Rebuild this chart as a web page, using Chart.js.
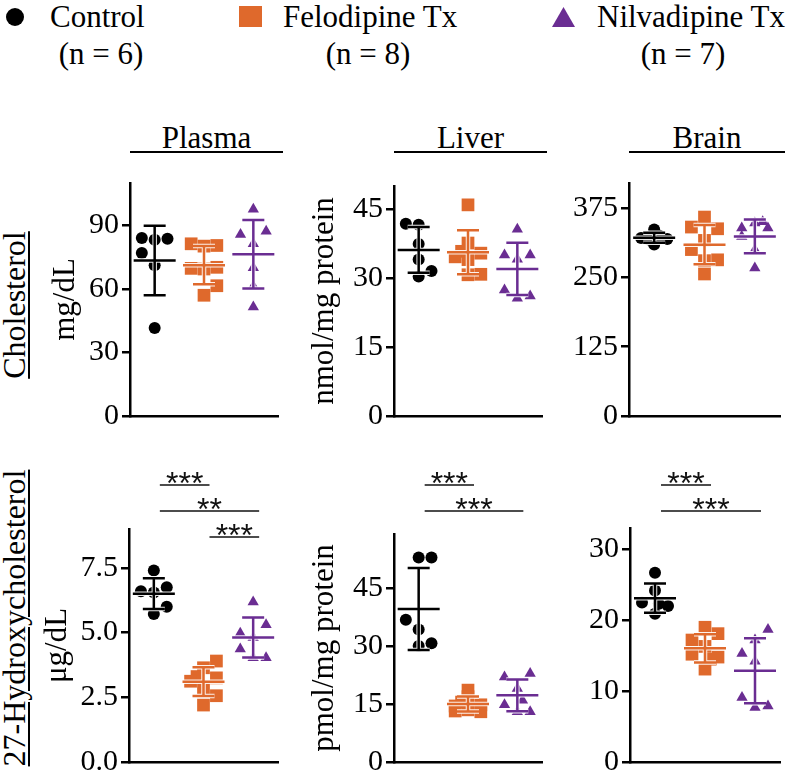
<!DOCTYPE html>
<html>
<head>
<meta charset="utf-8">
<script src="https://cdn.jsdelivr.net/npm/chart.js@4.4.1/dist/chart.umd.min.js"></script>
<style>
  html, body { margin: 0; padding: 0; background: #fff; overflow: hidden; }
  #page { position: relative; width: 789px; height: 776px; font-family: 'Liberation Serif', 'Times New Roman', serif; color: #000; }
  .txt { position: absolute; white-space: nowrap; font-size: 31px; line-height: 31px; }
  .mid { transform: translateX(-50%); }
  .col { position: absolute; text-align: center; font-size: 31px; line-height: 31px; height: 29px; border-bottom: 2px solid #000; }
  .row { position: absolute; text-align: center; font-size: 32px; line-height: 32px; height: 32px; white-space: nowrap;
         transform: rotate(-90deg); text-decoration: underline; text-decoration-thickness: 1.5px; text-underline-offset: 3px; }
  canvas { position: absolute; }
</style>
</head>
<body>
<div id="page"></div>
<script>
const groups = ['Control', 'Felodipine Tx', 'Nilvadipine Tx'];
const groupN = ['(n = 6)', '(n = 8)', '(n = 7)'];
const groupColors = ['#000000', '#DF692C', '#6A2D92'];
const groupShapes = ['circle', 'rect', 'triangle'];

// Cholesterol - plasma (mg/dL)
const cholPlasmaCtrl = [84, 83.2, 83.7, 77, 71.2, 41.5];
const cholPlasmaFelo = [81.3, 80.2, 80.5, 69.7, 69.4, 70.2, 61.5, 57];
const cholPlasmaNilv = [97.6, 85.7, 87.2, 81.3, 70, 61.2, 51.5];
// Cholesterol - liver (nmol/mg protein)
const cholLiverCtrl = [41.8, 41.6, 37.4, 34, 31.5, 30.3];
const cholLiverFelo = [45.9, 37.6, 35.8, 34.6, 35.4, 34, 30.7, 30.8];
const cholLiverNilv = [40.6, 35, 34.1, 35, 27.4, 25.6, 26.1];
// Cholesterol - brain
const cholBrainCtrl = [336, 321, 319, 309, 325, 318];
const cholBrainFelo = [358.6, 340.6, 337.5, 316.5, 300, 281.5, 280, 256];
const cholBrainNilv = [348, 350, 339, 339, 323.7, 299.6, 267];
// 27-hydroxycholesterol - plasma (ug/dL)
const hcPlasmaCtrl = [7.4, 6.6, 6.75, 6.55, 6.0, 5.72];
const hcPlasmaFelo = [3.9, 3.64, 3.3, 3.12, 3.25, 2.86, 2.56, 2.2];
const hcPlasmaNilv = [6.18, 4.97, 5.3, 4.81, 4.36, 4.03, 4.03];
// 27-hydroxycholesterol - liver (pmol/mg protein)
const hcLiverCtrl = [52.9, 52.9, 36.8, 34.3, 30, 30.7];
const hcLiverFelo = [18.6, 16.9, 15.5, 14.8, 14.5, 13.5, 13.2, 13];
const hcLiverNilv = [22, 22.9, 19, 16, 14.8, 13, 13];
// 27-hydroxycholesterol - brain
const hcBrainCtrl = [26.7, 24.2, 22.5, 22.3, 22, 20.9];
const hcBrainFelo = [19, 18.1, 17.2, 16.3, 15.2, 14.8, 14.5, 13.1];
const hcBrainNilv = [18.7, 17.2, 15.3, 14.2, 9.1, 7.7, 7.9];

// which side of its column each dot sits on (-1 left, 0 centre, 1 right)
const cholPlasmaSides = [[-1,0,1,-1,0,0], [-1,0,1,-1,0,1,1,0], [0,-1,1,0,0,0,0]];
const cholLiverSides = [[-1,0,0,0,1,0], [0,0,-0.5,-1,1,0,0,1], [0,-1,0,1,-1,0,1]];
const cholBrainSides = [[0,-1,1,0,0.4,-0.4], [0,-1,1,0,-1,1,0,0], [0,0.6,1,-1,-1,0,0]];
const hcPlasmaSides = [[0,-1,1,0,1,0], [1,0,-0.5,-1,1,0,1,0], [0,-1,1,0,-1,0,1]];
const hcLiverSides = [[0,1,-1,0,0,1], [0,0,-0.5,1,-1,0,-1,1], [-1,1,0,0.4,-1,0,1]];
const hcBrainSides = [[0,0,-1,0.3,1,0], [0,1,-1,0,-1,1,0.4,0], [1,0,-1,0,-1,0,1]];

// tick labels
const cholPlasmaTicks = ['0', '30', '60', '90'];
const cholLiverTicks = ['0', '15', '30', '45'];
const cholBrainTicks = ['0', '125', '250', '375'];
const hcPlasmaTicks = ['0.0', '2.5', '5.0', '7.5'];
const hcLiverTicks = ['0', '15', '30', '45'];
const hcBrainTicks = ['0', '10', '20', '30'];

const tissues = ['Plasma', 'Liver', 'Brain'];
const measures = ['Cholesterol', '27-Hydroxycholesterol'];

// significance bars: [from group, to group, level, label]
const hcPlasmaSig = [[0, 1, 0, '***'], [0, 2, 1, '**'], [1, 2, 2, '***']];
const hcLiverSig = [[0, 1, 0, '***'], [0, 2, 1, '***']];
const hcBrainSig = [[0, 1, 0, '***'], [0, 2, 1, '***']];

const serif = "'Liberation Serif', 'Times New Roman', serif";
const spread = 0.26;
const markerRadius = { circle: 6, rect: 9, triangle: 6.5 };

const panels = [
  { values: [cholPlasmaCtrl, cholPlasmaFelo, cholPlasmaNilv], sides: cholPlasmaSides, ticks: cholPlasmaTicks, max: 110,
    title: 'mg/dL', area: [130, 183, 283, 416], left: 30, top: 160, titlePad: 17 },
  { values: [cholLiverCtrl, cholLiverFelo, cholLiverNilv], sides: cholLiverSides, ticks: cholLiverTicks, max: 50,
    title: 'nmol/mg protein', area: [394, 186, 547, 416], left: 300, top: 160, titlePad: 6 },
  { values: [cholBrainCtrl, cholBrainFelo, cholBrainNilv], sides: cholBrainSides, ticks: cholBrainTicks, max: 420,
    title: '', area: [629, 183, 785, 416], left: 560, top: 160, titlePad: 0 },
  { values: [hcPlasmaCtrl, hcPlasmaFelo, hcPlasmaNilv], sides: hcPlasmaSides, ticks: hcPlasmaTicks, max: 9,
    title: 'μg/dL', area: [129, 529, 283, 762], left: 30, top: 440, titlePad: 9, sig: hcPlasmaSig },
  { values: [hcLiverCtrl, hcLiverFelo, hcLiverNilv], sides: hcLiverSides, ticks: hcLiverTicks, max: 59,
    title: 'pmol/mg protein', area: [394, 534, 547, 762], left: 300, top: 440, titlePad: 6, sig: hcLiverSig },
  { values: [hcBrainCtrl, hcBrainFelo, hcBrainNilv], sides: hcBrainSides, ticks: hcBrainTicks, max: 33,
    title: '', area: [630, 528, 785, 762], left: 560, top: 440, titlePad: 0, sig: hcBrainSig }
];

function mean(a) { return a.reduce((s, v) => s + v, 0) / a.length; }
function sd(a) { const m = mean(a); return Math.sqrt(a.reduce((s, v) => s + (v - m) * (v - m), 0) / (a.length - 1)); }

const errorBars = {
  id: 'errorBars',
  afterDatasetsDraw(chart) {
    const { ctx, scales: { x, y } } = chart;
    chart.data.datasets.forEach((ds, i) => {
      const vals = ds.data.map(p => p.y);
      const m = mean(vals), s = sd(vals);
      const cx = x.getPixelForValue(i);
      const ym = y.getPixelForValue(m), yt = y.getPixelForValue(m + s), yb = y.getPixelForValue(m - s);
      const path = () => {
        ctx.beginPath();
        ctx.moveTo(cx - 21, ym); ctx.lineTo(cx + 21, ym);
        ctx.moveTo(cx, yt); ctx.lineTo(cx, yb);
        ctx.moveTo(cx - 11, yt); ctx.lineTo(cx + 11, yt);
        ctx.moveTo(cx - 11, yb); ctx.lineTo(cx + 11, yb);
      };
      ctx.save();
      ctx.lineCap = 'butt';
      ctx.strokeStyle = 'rgba(255,255,255,0.9)';
      ctx.lineWidth = 4.5;
      path(); ctx.stroke();
      ctx.strokeStyle = ds.backgroundColor;
      ctx.lineWidth = 2.5;
      path(); ctx.stroke();
      ctx.restore();
    });
  }
};

const brackets = {
  id: 'brackets',
  afterDraw(chart, args, opts) {
    if (!opts.items) return;
    const { ctx, scales: { x } } = chart;
    ctx.save();
    opts.items.forEach(([from, to, level, label]) => {
      const y = opts.y + level * 26;
      const x1 = x.getPixelForValue(from) + 6, x2 = x.getPixelForValue(to) + 6;
      ctx.strokeStyle = '#111';
      ctx.lineWidth = 1.5;
      ctx.beginPath(); ctx.moveTo(x1, y); ctx.lineTo(x2, y); ctx.stroke();
      ctx.fillStyle = '#111';
      ctx.font = "32px 'Liberation Sans', Arial, sans-serif";
      ctx.textAlign = 'center';
      ctx.textBaseline = 'alphabetic';
      ctx.fillText(label, (x1 + x2) / 2, y + 9);
    });
    ctx.restore();
  }
};

const page = document.getElementById('page');

function addText(cls, text, left, top, extra) {
  const d = document.createElement('div');
  d.className = cls;
  d.textContent = text;
  d.style.left = left + 'px';
  d.style.top = top + 'px';
  if (extra) Object.assign(d.style, extra);
  page.appendChild(d);
  return d;
}

// legend
const marker = (style) => { const d = document.createElement('div'); d.style.position = 'absolute'; Object.assign(d.style, style); page.appendChild(d); };
marker({ left: '6px', top: '8px', width: '18px', height: '18px', borderRadius: '50%', background: groupColors[0] });
marker({ left: '239px', top: '6px', width: '23px', height: '21px', background: groupColors[1] });
marker({ left: '552px', top: '7px', width: '23px', height: '20px', background: groupColors[2], clipPath: 'polygon(50% 0, 100% 100%, 0 100%)' });
[50, 283, 597].forEach((x, i) => addText('txt', groups[i], x, 1));
[101, 368, 683].forEach((x, i) => addText('txt mid', groupN[i], x, 38));

// column titles
panels.slice(0, 3).forEach((p, i) => {
  addText('col', tissues[i], p.area[0], 122, { width: (p.area[2] - p.area[0]) + 'px' });
});

// row titles
[[305, 200], [618, 340]].forEach(([cy, w], i) => {
  addText('row', measures[i], 14 - w / 2, cy - 16, { width: w + 'px' });
});

panels.forEach(p => {
  const [l, t, r, b] = p.area;
  const w = r - p.left + 4, h = b - p.top + 24;
  const cv = document.createElement('canvas');
  cv.width = w; cv.height = h;
  cv.style.left = p.left + 'px'; cv.style.top = p.top + 'px';
  cv.style.width = w + 'px'; cv.style.height = h + 'px';
  page.appendChild(cv);

  const datasets = p.values.map((vals, g) => ({
    label: groups[g],
    data: vals.map((v, k) => ({ x: g + p.sides[g][k] * spread, y: v })),
    pointStyle: groupShapes[g],
    pointRadius: markerRadius[groupShapes[g]],
    backgroundColor: groupColors[g],
    borderColor: groupColors[g],
    borderWidth: 0
  }));

  new Chart(cv, {
    type: 'scatter',
    data: { datasets },
    options: {
      responsive: false,
      animation: false,
      events: [],
      layout: { padding: { left: 0, top: t - p.top, right: 4, bottom: 24 } },
      plugins: {
        legend: { display: false },
        tooltip: { enabled: false },
        brackets: { items: p.sig, y: 485 - p.top }
      },
      scales: {
        x: {
          type: 'linear', min: -0.5, max: 2.5,
          ticks: { display: false },
          grid: { display: false, drawTicks: false },
          border: { display: true, color: '#000', width: 2.5 }
        },
        y: {
          type: 'linear', min: 0, max: p.max,
          afterBuildTicks: s => { s.ticks = p.ticks.map(v => ({ value: Number(v) })); },
          afterFit: s => { s.width = l - p.left; },
          ticks: {
            color: '#000', padding: 3,
            font: { family: serif, size: 30 },
            callback: (v, i) => p.ticks[i]
          },
          grid: { display: true, drawOnChartArea: false, drawTicks: true, tickLength: 8, color: '#000', lineWidth: 2.5 },
          border: { display: true, color: '#000', width: 2.5 },
          title: {
            display: !!p.title, text: p.title, color: '#000',
            font: { family: serif, size: 31 },
            padding: { top: p.titlePad, bottom: 0 }
          }
        }
      }
    },
    plugins: [errorBars, brackets]
  });
});
</script>
</body>
</html>
